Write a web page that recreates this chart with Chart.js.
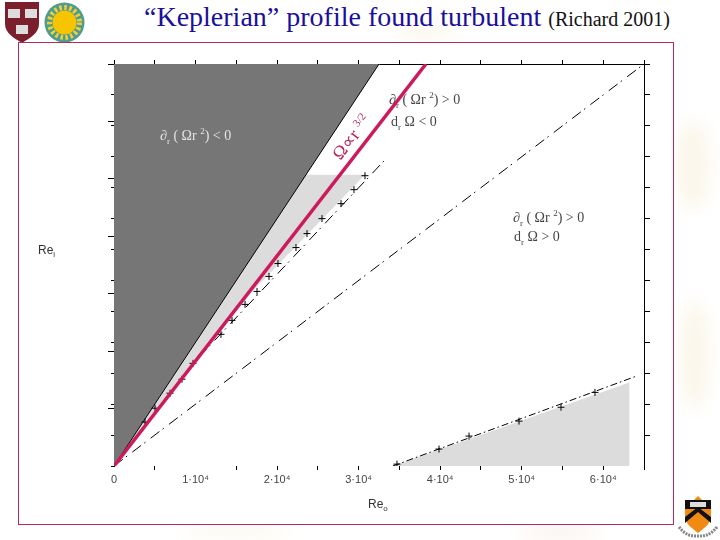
<!DOCTYPE html>
<html>
<head>
<meta charset="utf-8">
<script src="https://cdn.jsdelivr.net/npm/chart.js@4/dist/chart.umd.js"></script>
<style>
    html, body { margin: 0; padding: 0; background: #fff; }
    #page { position: relative; width: 720px; height: 540px; overflow: hidden; background: #fff; }
    .smudge { position: absolute; border-radius: 50%; filter: blur(9px); background: #fbf6ea; }
    #frame { position: absolute; left: 18px; top: 42px; width: 654px; height: 481px; border: 1px solid #b52a5e; background: #fff; }
    #chart-box { position: absolute; left: 0; top: 0; width: 720px; height: 540px; }
    #heading { position: absolute; left: 144px; top: 0px; font-family: "Liberation Serif"; font-size: 28px; line-height: 34px; color: #1a0f9c; white-space: nowrap; }
    #heading span { font-size: 20px; color: #111; }
    .note { position: absolute; font-family: "Liberation Serif"; font-size: 14px; line-height: 14px; color: #444; white-space: nowrap; }
    .note sub { font-size: 9px; line-height: 0; }
    .note sup { font-size: 9px; line-height: 0; }
    .axis-name { position: absolute; font-family: "Liberation Sans"; font-size: 12px; color: #333; }
    .axis-name sub { font-size: 8px; line-height: 0; }
    #law { position: absolute; left: 326px; top: 126px; font-family: "Liberation Serif"; font-size: 18px; color: #b8285c; white-space: nowrap; transform: rotate(-52deg); }
    #law sup { font-size: 11px; line-height: 0; }
    svg { position: absolute; }
</style>
</head>
<body>
<div id="page">
    <div class="smudge" style="left:395px;top:22px;width:60px;height:16px"></div>
    <div class="smudge" style="left:676px;top:120px;width:34px;height:90px"></div>
    <div class="smudge" style="left:680px;top:300px;width:30px;height:110px"></div>
    <div class="smudge" style="left:180px;top:524px;width:110px;height:12px"></div>
    <div class="smudge" style="left:520px;top:526px;width:80px;height:10px;background:#f6ebe4"></div>

    <!-- logos -->
    <svg style="left:5px;top:2px" width="35" height="41" viewBox="0 0 35 41">
        <path d="M0 0H34V22C34 31 25 36 17 41C9 36 0 31 0 22Z" fill="#7c1f2c"/>
        <rect x="3" y="7" width="12" height="9" fill="#ddd"/>
        <rect x="20" y="7" width="12" height="9" fill="#ddd"/>
        <rect x="11" y="23" width="12" height="9" fill="#ddd"/>
    </svg>
    <svg style="left:44px;top:2px" width="41" height="41" viewBox="0 0 41 41">
        <circle cx="20.5" cy="20.5" r="20" fill="#4f9c8e"/>
        <circle cx="20.5" cy="20.5" r="12" fill="#f6c400"/>
        <circle cx="20.5" cy="20.5" r="15" fill="none" stroke="#f0cf3c" stroke-width="5" stroke-dasharray="2.5 2.5"/>
    </svg>
    <svg style="left:678px;top:496px" width="40" height="42" viewBox="0 0 40 42">
        <path d="M20 0L24 4H33V20C33 28 26 32 20 37C14 32 7 28 7 20V4H16Z" fill="#f08a12"/>
        <path d="M7 4H33V13H7Z" fill="#111"/>
        <path d="M7 27L20 16L33 27V21L20 11L7 21Z" fill="#111"/>
        <rect x="12" y="6" width="16" height="5" fill="#ddd"/>
        <path d="M1 31C8 40 14 40 20 40C26 40 32 40 39 31" fill="none" stroke="#888" stroke-width="3" stroke-dasharray="2 1"/>
    </svg>

    <div id="heading">“Keplerian” profile found turbulent <span>(Richard 2001)</span></div>
    <div id="frame"></div>
    <div id="chart-box"><canvas id="chart-keplerian" width="720" height="540"></canvas></div>

    <div class="axis-name" style="left:38px;top:243px">Re<sub>i</sub></div>
    <div class="axis-name" style="left:368px;top:497px">Re<sub>o</sub></div>
    <div class="note" style="left:160px;top:129px;color:#e4e4e4">∂<sub>r</sub> ( Ωr <sup>2</sup>) &lt; 0</div>
    <div class="note" style="left:389px;top:93px">∂<sub>r</sub> ( Ωr <sup>2</sup>) &gt; 0</div>
    <div class="note" style="left:391px;top:115px">d<sub>r</sub> Ω &lt; 0</div>
    <div class="note" style="left:513px;top:211px">∂<sub>r</sub> ( Ωr <sup>2</sup>) &gt; 0</div>
    <div class="note" style="left:514px;top:230px">d<sub>r</sub> Ω &gt; 0</div>
    <div id="law">Ω∝r <sup>3/2</sup></div>
</div>

<script>
//axis limits and ticks
var axisMax = 65000;
var tickStep = 5000;
var labelStep = 10000;

//dark zone: Re_i above the Rayleigh line
var darkRegionRo = [0, 0, 32500];
var darkRegionRi = [0, 65000, 65000];

//light grey zones (turbulent, measured)
var upperGreyRo = [0, 23550, 30780, 16800];
var upperGreyRi = [0, 47100, 47100, 28000];
var lowerGreyRo = [34200, 63200, 63200];
var lowerGreyRi = [0, 13500, 0];

//straight lines
var rayleighRo = [0, 32500];
var rayleighRi = [0, 65000];
var keplerRo = [0, 38260];
var keplerRi = [0, 65000];
var solidBodyRo = [0, 65000];
var solidBodyRi = [0, 65000];
var upperLimitRo = [0, 9690, 33230];
var upperLimitRi = [0, 16600, 49500];
var lowerLimitRo = [34200, 64000];
var lowerLimitRi = [0, 14500];

//measured points (crosses)
var upperPointsRo = [3800, 5030, 6870, 8340, 9690, 13120, 14470, 16070, 17540, 19010, 20110, 22320, 23670, 25510, 27840, 29430, 30780];
var upperPointsRi = [7100, 9350, 11770, 14030, 16600, 21290, 23550, 26130, 28230, 30650, 32740, 35320, 37580, 40000, 42420, 44680, 46940];
var lowerPointsRo = [34700, 39860, 43540, 49670, 54820, 58990];
var lowerPointsRi = [300, 2740, 4840, 7260, 9500, 11900];

//zip two lists into chart points
function ToPoints(xs, ys) {
    return xs.map(function (x, i) {
        return { x: x, y: ys[i] };
    });
}

function TickLabel(value) {
    if (value == 0) return '0';
    if (value % labelStep != 0) return '';
    return (value / labelStep) + '·10⁴';
}

var dashDot = [11, 4, 1.5, 6.5];
var tickFont = { family: 'Liberation Sans', size: 11 };

function Zone(xs, ys, color, order) {
    return { data: ToPoints(xs, ys), order: order, showLine: true, fill: 'shape', backgroundColor: color, borderWidth: 0, pointRadius: 0 };
}
function Line(xs, ys, color, width, dash, order) {
    return { data: ToPoints(xs, ys), order: order, showLine: true, fill: false, borderColor: color, borderWidth: width, borderDash: dash, pointRadius: 0 };
}
function Crosses(xs, ys, order) {
    return { data: ToPoints(xs, ys), order: order, showLine: false, pointStyle: 'cross', pointRadius: 3.5, pointBorderColor: '#000', pointBorderWidth: 1 };
}

//lower order is drawn on top
var ctx = document.getElementById('chart-keplerian');
var myChart = new Chart(ctx, {
    type: 'scatter',
    data: {
        datasets: [
            Line(keplerRo, keplerRi, '#cc1a5c', 3.5, [], 1),
            Crosses(upperPointsRo, upperPointsRi, 2),
            Crosses(lowerPointsRo, lowerPointsRi, 2),
            Line(upperLimitRo, upperLimitRi, '#000', 1, dashDot, 3),
            Line(lowerLimitRo, lowerLimitRi, '#000', 1, [7, 3, 1.5, 3], 3),
            Line(solidBodyRo, solidBodyRi, '#000', 1, dashDot, 3),
            Line(rayleighRo, rayleighRi, '#000', 1, [], 4),
            Zone(darkRegionRo, darkRegionRi, '#767676', 5),
            Zone(upperGreyRo, upperGreyRi, '#dcdcdc', 6),
            Zone(lowerGreyRo, lowerGreyRi, '#dcdcdc', 6)
        ]
    },
    options: {
        responsive: false,
        animation: false,
        layout: { padding: 0 },
        plugins: { legend: { display: false }, title: { display: false }, tooltip: { enabled: false } },
        scales: {
            x: {
                type: 'linear', position: 'bottom', min: 0, max: axisMax,
                afterFit: function (scale) { scale.height = 74; },
                border: { display: false },
                grid: { drawOnChartArea: false, tickLength: 4, tickColor: function (c) { return c.tick.value <= labelStep && c.tick.value % labelStep == 0 ? 'transparent' : '#000'; } },
                ticks: { stepSize: tickStep, autoSkip: false, maxRotation: 0, padding: 3, color: '#444', font: tickFont, callback: TickLabel }
            },
            xTop: {
                type: 'linear', position: 'top', min: 0, max: axisMax,
                afterFit: function (scale) { scale.height = 64; },
                border: { display: true, color: '#000', width: 1 },
                grid: { drawOnChartArea: false, tickLength: 4, tickColor: '#000' },
                ticks: { stepSize: tickStep, autoSkip: false, maxRotation: 0, callback: function () { return ''; } }
            },
            //long ticks with the labels, short ones on the zero width scale next to the plot
            y: {
                type: 'linear', position: 'left', min: 0, max: axisMax, weight: 1,
                afterFit: function (scale) { scale.width = 114; },
                border: { display: true, color: '#000', width: 1 },
                grid: { drawOnChartArea: false, tickLength: 6, tickColor: function (c) { return c.tick.value == 0 ? 'transparent' : '#000'; } },
                ticks: { stepSize: labelStep, autoSkip: false, padding: 2, color: '#444', font: tickFont, callback: function (v) { return v == 0 ? '' : TickLabel(v); } }
            },
            yMinor: {
                type: 'linear', position: 'left', min: 0, max: axisMax, weight: 0,
                afterFit: function (scale) { scale.width = 0; },
                border: { display: false },
                grid: { drawOnChartArea: false, tickLength: 3, tickColor: '#000' },
                ticks: { stepSize: tickStep, autoSkip: false, callback: function () { return ''; } }
            },
            yRight: {
                type: 'linear', position: 'right', min: 0, max: axisMax,
                afterFit: function (scale) { scale.width = 76; },
                border: { display: true, color: '#000', width: 1 },
                grid: { drawOnChartArea: false, tickLength: 6, tickColor: function (c) { return c.tick.value == 0 ? 'transparent' : '#000'; } },
                ticks: { stepSize: tickStep, autoSkip: false, callback: function () { return ''; } }
            }
        }
    }
});
</script>
</body>
</html>
